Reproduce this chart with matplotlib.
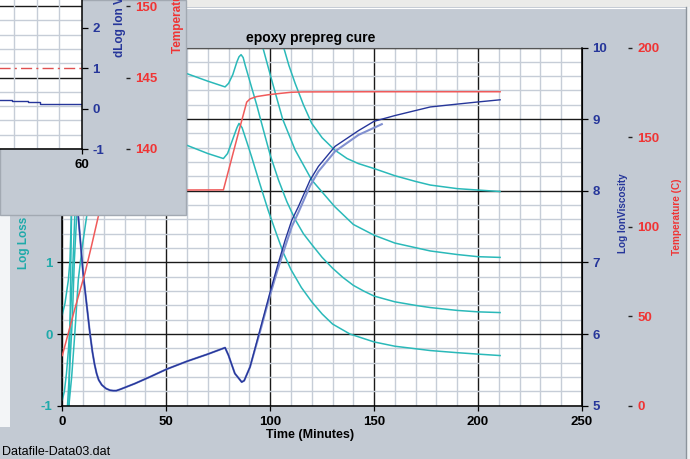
import matplotlib
matplotlib.use("Agg")
import matplotlib.pyplot as plt
import matplotlib.ticker as mticker
from matplotlib.patches import Rectangle
from matplotlib.lines import Line2D
import numpy as np

nan = np.nan

# ── values ───────────────────────────────────────────────────────────────
# temperature (C) vs time (min)
TEMP_T = [0, 3, 6, 10.9, 14, 17.3, 20, 21.5, 30, 50, 77.5, 80, 85, 88.7, 90.3,
          93.5, 99, 105, 110, 116, 150, 180, 210.6]
TEMP_C = [28, 41, 54, 74, 89, 105.6, 116, 120, 120.3, 120.4, 120.5, 131.5, 153.5,
          169.5, 171.3, 172.6, 173.6, 174.4, 175.0, 175.2, 175.3, 175.3, 175.3]

# log ion viscosity, main trace
VISC_T = [3, 5, 7.7, 10, 13.3, 14.5, 15.5, 16.5, 17.5, 19, 21, 23, 24.5, 26, 28,
          35, 42, 50.2, 60, 70, 78.3, 80, 80.7, 83, 85.5, 86.3, 87.5, 90.3, 95.1,
          100, 103.5, 107.2, 110.4, 113.6, 119.2, 123.2, 131.2, 142.5, 150, 160,
          177, 190, 200, 210.6]
VISC_V = [9.6, 8.6, 7.64, 6.85, 6.01, 5.75, 5.58, 5.45, 5.36, 5.29, 5.24, 5.215,
          5.21, 5.21, 5.23, 5.31, 5.40, 5.51, 5.62, 5.72, 5.81, 5.70, 5.64, 5.45,
          5.36, 5.33, 5.35, 5.54, 6.06, 6.59, 6.95, 7.31, 7.59, 7.78, 8.15, 8.34,
          8.62, 8.84, 8.97, 9.05, 9.17, 9.21, 9.24, 9.27]

# second (lighter) viscosity trace, ends early
VISC2_T = [3, 5, 7.7, 10, 13.3, 14.5, 15.5, 16.5, 17.5, 19, 21, 23, 24.5, 26, 28,
           35, 42, 50.2, 60, 70, 78.3, 80, 80.7, 83, 85.5, 86.3, 87.5, 90.3, 95.1,
           100, 103.5, 107.2, 110.4, 113.6, 119.2, 123.2, 131.2, 142.5, 150, 153.7]
VISC2_V = [9.6, 8.6, 7.64, 6.85, 6.01, 5.75, 5.58, 5.45, 5.36, 5.29, 5.24, 5.215,
           5.21, 5.21, 5.23, 5.31, 5.40, 5.51, 5.62, 5.72, 5.81, 5.70, 5.64, 5.45,
           5.36, 5.33, 5.35, 5.54, 6.03, 6.55, 6.89, 7.22, 7.50, 7.70, 8.07, 8.27,
           8.55, 8.78, 8.88, 8.93]

# log loss, one trace per frequency (nan = off the top of the chart)
LOSS0_T = [0, 1.3, 2.9, 3.7, 4.3, 4.8, 5.3]
LOSS0_V = [0.27, 0.43, 0.75, 1.03, 1.6, 2.4, 4.2]

LOSS1_T = [0, 1, 2, 3, 4, 5, 5.8, 6.9, 8, nan,
           106.3, 109, 112, 116, 120, 125, 131, 137, 142.4, 150, 160, 170, 177,
           190, 200, 210.6]
LOSS1_V = [-0.92, -0.8, -0.55, -0.2, 0.3, 0.9, 1.5, 2.4, 4.2, nan,
           4.02, 3.75, 3.5, 3.2, 2.94, 2.74, 2.57, 2.45, 2.38, 2.31, 2.21, 2.13,
           2.08, 2.03, 2.01, 1.99]

LOSS2_T = [3.2, 3.5, 3.8, 4.1, 4.5, 5, 5.8, nan,
           96, 100.5, 106, 112, 120, 131, 140, 150, 160, 177, 190, 200, 210.6]
LOSS2_V = [-1.05, -0.4, 0.3, 1.0, 1.8, 2.6, 4.2, nan,
           4.05, 3.57, 3.0, 2.57, 2.15, 1.78, 1.53, 1.38, 1.27, 1.16, 1.11, 1.08, 1.07]

LOSS3_T = [2.4, 3.5, 4.8, 5.8, 6.9, 8.5, 10.5, 13, 17, 22, 30, 45, 59.5, 70, 78.3,
           80, 82, 84, 85, 86, 87, 88, 90, 93.5, 97, 100, 104, 108, 112, 116, 120,
           125, 130, 135, 140, 145, 150, 160, 170, 177, 190, 200, 210.6]
LOSS3_V = [-1.05, -0.5, 0.2, 1.03, 1.64, 2.5, 3.4, 3.9, 4.1, 4.1, 3.95, 3.8, 3.64,
           3.53, 3.45, 3.5, 3.62, 3.8, 3.87, 3.9, 3.86, 3.75, 3.55, 3.2, 2.82, 2.5,
           2.15, 1.85, 1.6, 1.4, 1.25, 1.07, 0.92, 0.79, 0.68, 0.6, 0.53, 0.45,
           0.4, 0.37, 0.33, 0.31, 0.30]

LOSS4_T = [3.0, 4.5, 6, 7.7, 9.5, 11.7, 14, 17, 20, 25, 35, 47, 59.5, 70, 77.5,
           79.5, 82, 84, 85, 86.5, 89, 91, 95, 99, 103, 106.4, 110, 115, 120, 125,
           130, 138.4, 150, 160, 177, 190, 200, 210.6]
LOSS4_V = [-1.05, -0.6, 0.0, 0.76, 1.2, 1.64, 2.15, 2.6, 2.85, 2.95, 2.85, 2.75,
           2.64, 2.52, 2.45, 2.52, 2.72, 2.88, 2.94, 2.88, 2.66, 2.48, 2.1, 1.73,
           1.4, 1.13, 0.9, 0.65, 0.45, 0.28, 0.14, 0.0, -0.11, -0.17, -0.23,
           -0.26, -0.28, -0.30]

# inset: dLog ion viscosity and a reference line
INSET_DLOG_T = [20, 28.8, 36.1, 41.3, 60]
INSET_DLOG_V = [0.22, 0.195, 0.16, 0.12, 0.12]
INSET_REF_T = [20, 60]
INSET_REF_V = [1.0, 1.0]

X_TICKS = [0, 50, 100, 150, 200, 250]
LOSS_TICKS = [-1, 0, 1, 2, 3, 4]
VISC_TICKS = [5, 6, 7, 8, 9, 10]
TEMP_TICKS = [0, 50, 100, 150, 200]

# ── style ────────────────────────────────────────────────────────────────
plt.rcParams["font.family"] = ["Liberation Sans", "DejaVu Sans"]
plt.rcParams["font.weight"] = "bold"
plt.rcParams["axes.unicode_minus"] = False

W, H = 690, 459
BG = "#c3cad3"
CYAN = "#2ab9b9"
CYAN_TXT = "#1faaaa"
BLUE = "#26369a"
BLUE_LIGHT = "#8190d0"
RED = "#f05a5a"
RED_TXT = "#f03434"
MINOR = "#c6cdd7"


def fx(px):
    return px / W


def fy(py):
    return 1 - py / H


fig = plt.figure(figsize=(W / 100, H / 100), dpi=100, facecolor=BG)

# window chrome bits
fig.add_artist(Rectangle((0, fy(7)), 1, 7 / H, transform=fig.transFigure,
                         facecolor="#ebebe9", edgecolor="none", zorder=0.5))
fig.add_artist(Line2D([0, 1], [fy(7.5), fy(7.5)], transform=fig.transFigure,
                      color="white", lw=0.8, zorder=0.5))
fig.add_artist(Rectangle((fx(686), 0), 4 / W, fy(7), transform=fig.transFigure,
                         facecolor="#eef0f1", edgecolor="none", zorder=0.5))
fig.add_artist(Line2D([fx(685.5), fx(685.5)], [0, fy(7)], transform=fig.transFigure,
                      color="#8c949c", lw=1.0, zorder=0.5))
fig.add_artist(Rectangle((0, fy(427)), 10 / W, (427 - 215) / H,
                         transform=fig.transFigure, facecolor="#f3f5f7",
                         edgecolor="none", zorder=0.5))

# ── main chart ───────────────────────────────────────────────────────────
ax = fig.add_axes([fx(62.3), fy(405.7), (582 - 62.3) / W, (405.7 - 47.5) / H])
ax.set_facecolor("white")
ax.set_xlim(0, 250)
ax.set_ylim(-1, 4)
ax.set_xticks(X_TICKS)
ax.xaxis.set_minor_locator(mticker.MultipleLocator(10))
ax.set_yticks(LOSS_TICKS)
ax.yaxis.set_minor_locator(mticker.MultipleLocator(0.2))
ax.grid(which="minor", color=MINOR, lw=1.0)
ax.grid(which="major", color="#1a1a1a", lw=1.0)
ax.set_axisbelow(True)
ax.tick_params(which="minor", length=0)
ax.tick_params(axis="x", which="major", length=3.6, width=0.9, pad=3.5,
               labelsize=9.5, labelcolor="black")
ax.tick_params(axis="y", which="major", length=3.6, width=0.9, pad=3.5,
               labelsize=9.5, labelcolor=CYAN_TXT)
for s in ["left", "bottom"]:
    ax.spines[s].set_color("black")
    ax.spines[s].set_linewidth(1.1)
ax.spines["top"].set_color("#555555")
ax.spines["top"].set_linewidth(0.8)

for tt, vv in [(LOSS0_T, LOSS0_V), (LOSS1_T, LOSS1_V), (LOSS2_T, LOSS2_V),
               (LOSS3_T, LOSS3_V), (LOSS4_T, LOSS4_V)]:
    ax.plot(tt, vv, color=CYAN, lw=1.1)

ax_v = ax.twinx()
ax_v.set_ylim(5, 10)
ax_v.set_yticks(VISC_TICKS)
ax_v.tick_params(axis="y", length=4.3, width=0.9, pad=3, labelsize=9.5,
                 labelcolor=BLUE, color="black")
ax_v.spines["right"].set_color("black")
ax_v.spines["right"].set_linewidth(1.1)
for s in ["left", "top", "bottom"]:
    ax_v.spines[s].set_visible(False)
ax_v.plot(VISC2_T, VISC2_V, color=BLUE_LIGHT, lw=1.5)
ax_v.plot(VISC_T, VISC_V, color=BLUE, lw=1.0)

ax_t = ax.twinx()
ax_t.set_ylim(0, 200)
ax_t.set_yticks(TEMP_TICKS)
ax_t.spines["right"].set_position(("outward", 33.3))
for s in ax_t.spines.values():
    s.set_visible(False)
ax_t.tick_params(axis="y", length=2.9, width=1.0, pad=3.6, labelsize=9.5,
                 labelcolor=RED_TXT, color="#222222")
ax_t.plot(TEMP_T, TEMP_C, color=RED, lw=1.1)

fig.text(fx(311), fy(38), "epoxy prepreg cure", fontsize=10, ha="center", va="center")
fig.text(fx(310), fy(435), "Time (Minutes)", fontsize=9, ha="center", va="center")
fig.text(fx(24), fy(243), "Log Loss", fontsize=8.5, color=CYAN_TXT, rotation=90,
         ha="center", va="center")
fig.text(fx(623), fy(213), "Log IonViscosity", fontsize=7.2, color=BLUE, rotation=90,
         ha="center", va="center")
fig.text(fx(677), fy(217), "Temperature (C)", fontsize=7.2, color=RED_TXT, rotation=90,
         ha="center", va="center")
fig.text(fx(2), fy(452), "Datafile-Data03.dat", fontsize=9, fontweight="normal",
         ha="left", va="center")

# ── inset window (top-left) ──────────────────────────────────────────────
fig.add_artist(Rectangle((0, fy(215)), fx(186), 215 / H, transform=fig.transFigure,
                         facecolor=BG, edgecolor="#a2a9b2", lw=1.0, zorder=1))

axi = fig.add_axes([fx(-53), fy(149), 135 / W, 149 / H], zorder=3)
axi_t = axi.twinx()
axi_t.set_zorder(2)
axi.patch.set_visible(False)
axi_t.patch.set_visible(True)
axi_t.patch.set_facecolor("white")

axi.set_xlim(0, 60)
axi.set_xticks([60])
axi.xaxis.set_minor_locator(mticker.MultipleLocator(10))
axi.grid(axis="x", which="minor", color=MINOR, lw=1.0)
axi.set_ylim(-1, 2.68)
axi.yaxis.set_major_locator(mticker.MultipleLocator(1))
axi.yaxis.tick_right()
axi.tick_params(which="minor", length=0)
axi.tick_params(axis="x", which="major", length=3.6, width=0.9, pad=3.5, labelsize=9.5)
axi.tick_params(axis="y", which="major", length=4.3, width=0.9, pad=3, labelsize=9.5,
                labelcolor=BLUE)
for s in ["left", "top"]:
    axi.spines[s].set_visible(False)
for s in ["right", "bottom"]:
    axi.spines[s].set_color("black")
    axi.spines[s].set_linewidth(1.1)

axi_t.set_ylim(140, 150.42)
axi_t.yaxis.set_major_locator(mticker.MultipleLocator(5))
axi_t.yaxis.set_minor_locator(mticker.MultipleLocator(1))
axi_t.grid(which="minor", color=MINOR, lw=1.0)
axi_t.grid(which="major", color="#1a1a1a", lw=1.0)
axi_t.tick_params(which="minor", length=0)
axi_t.spines["right"].set_position(("outward", 31.7))
for s in axi_t.spines.values():
    s.set_visible(False)
axi_t.tick_params(axis="y", which="major", length=2.9, width=1.0, pad=3.6,
                  labelsize=9.5, labelcolor=RED_TXT, color="#222222")

axi.plot(INSET_REF_T, INSET_REF_V, color="#e05050", lw=1.0, dashes=(8, 3, 1.5, 3))
axi.plot(INSET_DLOG_T, INSET_DLOG_V, color=BLUE, lw=1.0, drawstyle="steps-post")

# these two labels run off the top edge, as in the reference window
fig.text(fx(120), fy(57), "dLog Ion Viscosity", fontsize=8.5, color=BLUE, rotation=90,
         ha="center", va="bottom")
fig.text(fx(178), fy(53), "Temperature (C)", fontsize=8.5, color=RED_TXT, rotation=90,
         ha="center", va="bottom")

fig.savefig("out.png", dpi=100, facecolor=BG)
